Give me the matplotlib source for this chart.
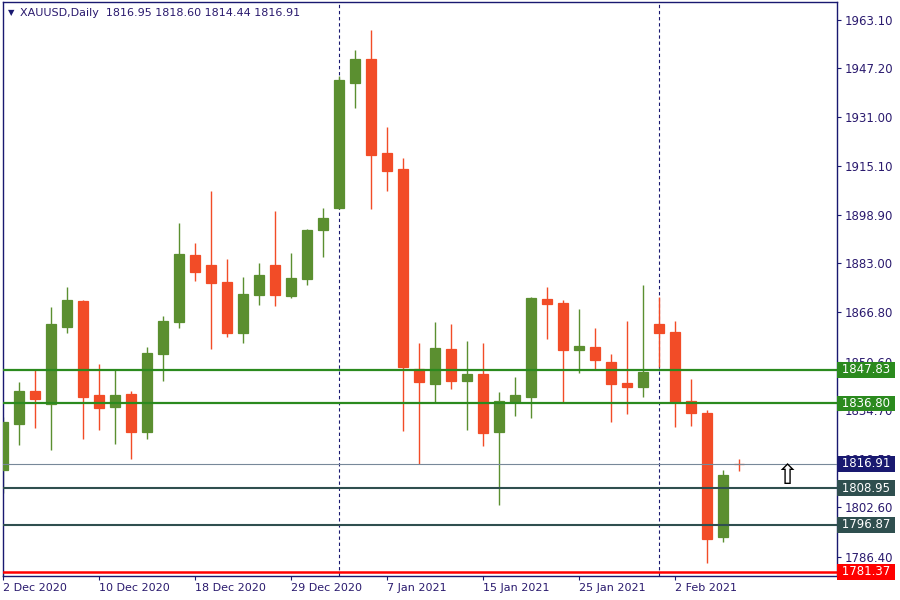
import matplotlib
matplotlib.use("Agg")
import matplotlib.pyplot as plt
import matplotlib.transforms as mtransforms
import pandas as pd

# daily XAUUSD bars, 2 Dec 2020 .. 8 Feb 2021 (no bars on 25 Dec and 1 Jan)
dates = pd.bdate_range("2020-12-02", "2021-02-08").drop(
    pd.to_datetime(["2020-12-25", "2021-01-01"]))

opens = [1814.9, 1830.0, 1840.9, 1836.6, 1862.1, 1870.5, 1839.6, 1835.7, 1839.9, 1827.4,
         1853.1, 1863.7, 1885.6, 1882.4, 1876.8, 1859.9, 1872.5, 1882.4, 1872.2, 1877.8,
         1893.9, 1901.2, 1942.3, 1950.1, 1919.1, 1913.9, 1848.1, 1843.3, 1854.7, 1844.3,
         1846.5, 1827.5, 1837.4, 1839.0, 1871.2, 1869.9, 1854.5, 1855.4, 1850.4, 1843.5,
         1842.3, 1862.9, 1860.2, 1837.6, 1833.7, 1792.9, 1816.95]
highs = [1832.5, 1844.0, 1848.0, 1868.6, 1875.2, 1871.0, 1849.8, 1847.8, 1840.9, 1855.5,
         1865.7, 1896.3, 1889.7, 1906.7, 1884.4, 1878.5, 1882.9, 1900.2, 1886.4, 1894.2,
         1901.1, 1944.5, 1953.1, 1959.7, 1927.7, 1917.6, 1856.8, 1863.7, 1863.0, 1857.5,
         1856.8, 1840.7, 1845.6, 1871.8, 1875.2, 1870.8, 1867.9, 1861.6, 1853.1, 1863.9,
         1875.8, 1871.9, 1863.9, 1844.9, 1834.7, 1814.9, 1818.60]
lows = [1807.3, 1823.1, 1828.8, 1821.5, 1859.9, 1825.1, 1828.1, 1823.5, 1818.5, 1825.1,
        1844.3, 1861.7, 1877.2, 1854.7, 1858.8, 1856.8, 1869.2, 1868.9, 1871.6, 1875.8,
        1885.1, 1900.9, 1934.1, 1900.9, 1906.8, 1827.8, 1816.9, 1836.9, 1841.7, 1828.1,
        1822.9, 1803.4, 1832.8, 1832.1, 1858.1, 1836.9, 1846.9, 1848.0, 1830.8, 1833.4,
        1839.0, 1848.7, 1829.2, 1829.5, 1784.4, 1791.2, 1814.44]
closes = [1830.8, 1840.9, 1838.3, 1862.9, 1870.8, 1839.0, 1835.4, 1839.6, 1827.4, 1853.4,
          1863.9, 1886.0, 1880.1, 1876.3, 1859.9, 1872.8, 1879.1, 1872.5, 1878.2, 1893.9,
          1897.8, 1943.2, 1950.1, 1918.6, 1913.4, 1848.9, 1844.0, 1855.0, 1844.3, 1846.5,
          1827.2, 1837.6, 1839.6, 1871.6, 1869.6, 1854.5, 1855.7, 1851.1, 1843.3, 1842.3,
          1847.2, 1860.1, 1837.4, 1833.8, 1792.3, 1813.3, 1816.91]

price_ticks = [1963.10, 1947.20, 1931.00, 1915.10, 1898.90, 1883.00, 1866.80,
               1850.60, 1834.70, 1818.50, 1802.60, 1786.40]
date_tick_days = ["2020-12-02", "2020-12-10", "2020-12-18", "2020-12-29",
                  "2021-01-07", "2021-01-15", "2021-01-25", "2021-02-02"]

resistance = [1847.83, 1836.80]
support = [1808.95, 1796.87]
low_level = 1781.37
bid = 1816.91

UP = "#5b8f30"
DOWN = "#f24c27"
NAVY = "#191970"
TXT = "#2a1a6e"
GREEN_LINE = "#2b8a1e"
SLATE = "#2f4f4f"

fig = plt.figure(figsize=(9, 6), dpi=100)
ax = fig.add_axes([2.5 / 900, 24.5 / 600, 834 / 900, 573.2 / 600])

x = list(range(len(dates)))
for i in x:
    col = UP if closes[i] >= opens[i] else DOWN
    ax.vlines(i, lows[i], highs[i], color=col, lw=1.0, zorder=2)
    lo = min(opens[i], closes[i])
    ax.bar(i, abs(closes[i] - opens[i]), bottom=lo, width=0.62, color=col,
           edgecolor=col, linewidth=0.9, zorder=3)

# month separators
for i in x[1:]:
    if dates[i].month != dates[i - 1].month:
        ax.axvline(i, color=NAVY, lw=0.8, ls=(0, (3, 2.5)), zorder=1)

ax.axhline(bid, color="#778899", lw=0.8, zorder=4)
for lvl in resistance:
    ax.axhline(lvl, color=GREEN_LINE, lw=1.6, zorder=5)
for lvl in support:
    ax.axhline(lvl, color=SLATE, lw=1.5, zorder=5)
ax.axhline(low_level, color="#ff0000", lw=1.8, zorder=5)

# arrow object right of the last bar
ax.text(len(dates) + 2, bid + 0.6, "\u21e7", fontsize=20, ha="center", va="top",
        color="black", zorder=6)

ax.set_xlim(-0.06, 52.07)
ax.set_ylim(1780.2, 1968.8)

for s in ax.spines.values():
    s.set_color(NAVY)
    s.set_linewidth(1.0)

ax.yaxis.tick_right()
ax.set_yticks(price_ticks)
ax.set_yticklabels([f"{p:.2f}" for p in price_ticks])
ax.tick_params(axis="y", direction="out", length=3, width=0.8, colors=NAVY,
               labelsize=8.5, pad=3, labelcolor=TXT)

tick_idx = [dates.get_loc(pd.Timestamp(d)) for d in date_tick_days]
ax.set_xticks(tick_idx)
ax.set_xticklabels([f"{dates[i].day} {dates[i]:%b %Y}" for i in tick_idx], ha="left")
ax.tick_params(axis="x", direction="out", length=3, width=0.8, colors=NAVY,
               labelsize=8, pad=2.5, labelcolor=TXT)

# price tags on the scale
trans = mtransforms.blended_transform_factory(ax.transAxes, ax.transData)
tags = [(resistance[0], GREEN_LINE), (resistance[1], GREEN_LINE), (bid, NAVY),
        (support[0], SLATE), (support[1], SLATE), (low_level, "#ff0000")]
for val, col in tags:
    ax.text(1.0015, val, f" {val:.2f} ", transform=trans, fontsize=8.5, color="white",
            ha="left", va="center", clip_on=False, zorder=10,
            bbox=dict(boxstyle="square,pad=0.1", fc=col, ec="none"))

fig.text(8 / 900, 1 - 13 / 600, "\u25bc", fontsize=6, color=NAVY, va="center")
fig.text(20 / 900, 1 - 13 / 600,
         f"XAUUSD,Daily  {opens[-1]:.2f} {highs[-1]:.2f} {lows[-1]:.2f} {closes[-1]:.2f}",
         fontsize=8, color=TXT, va="center")

fig.savefig("out.png", dpi=100)
